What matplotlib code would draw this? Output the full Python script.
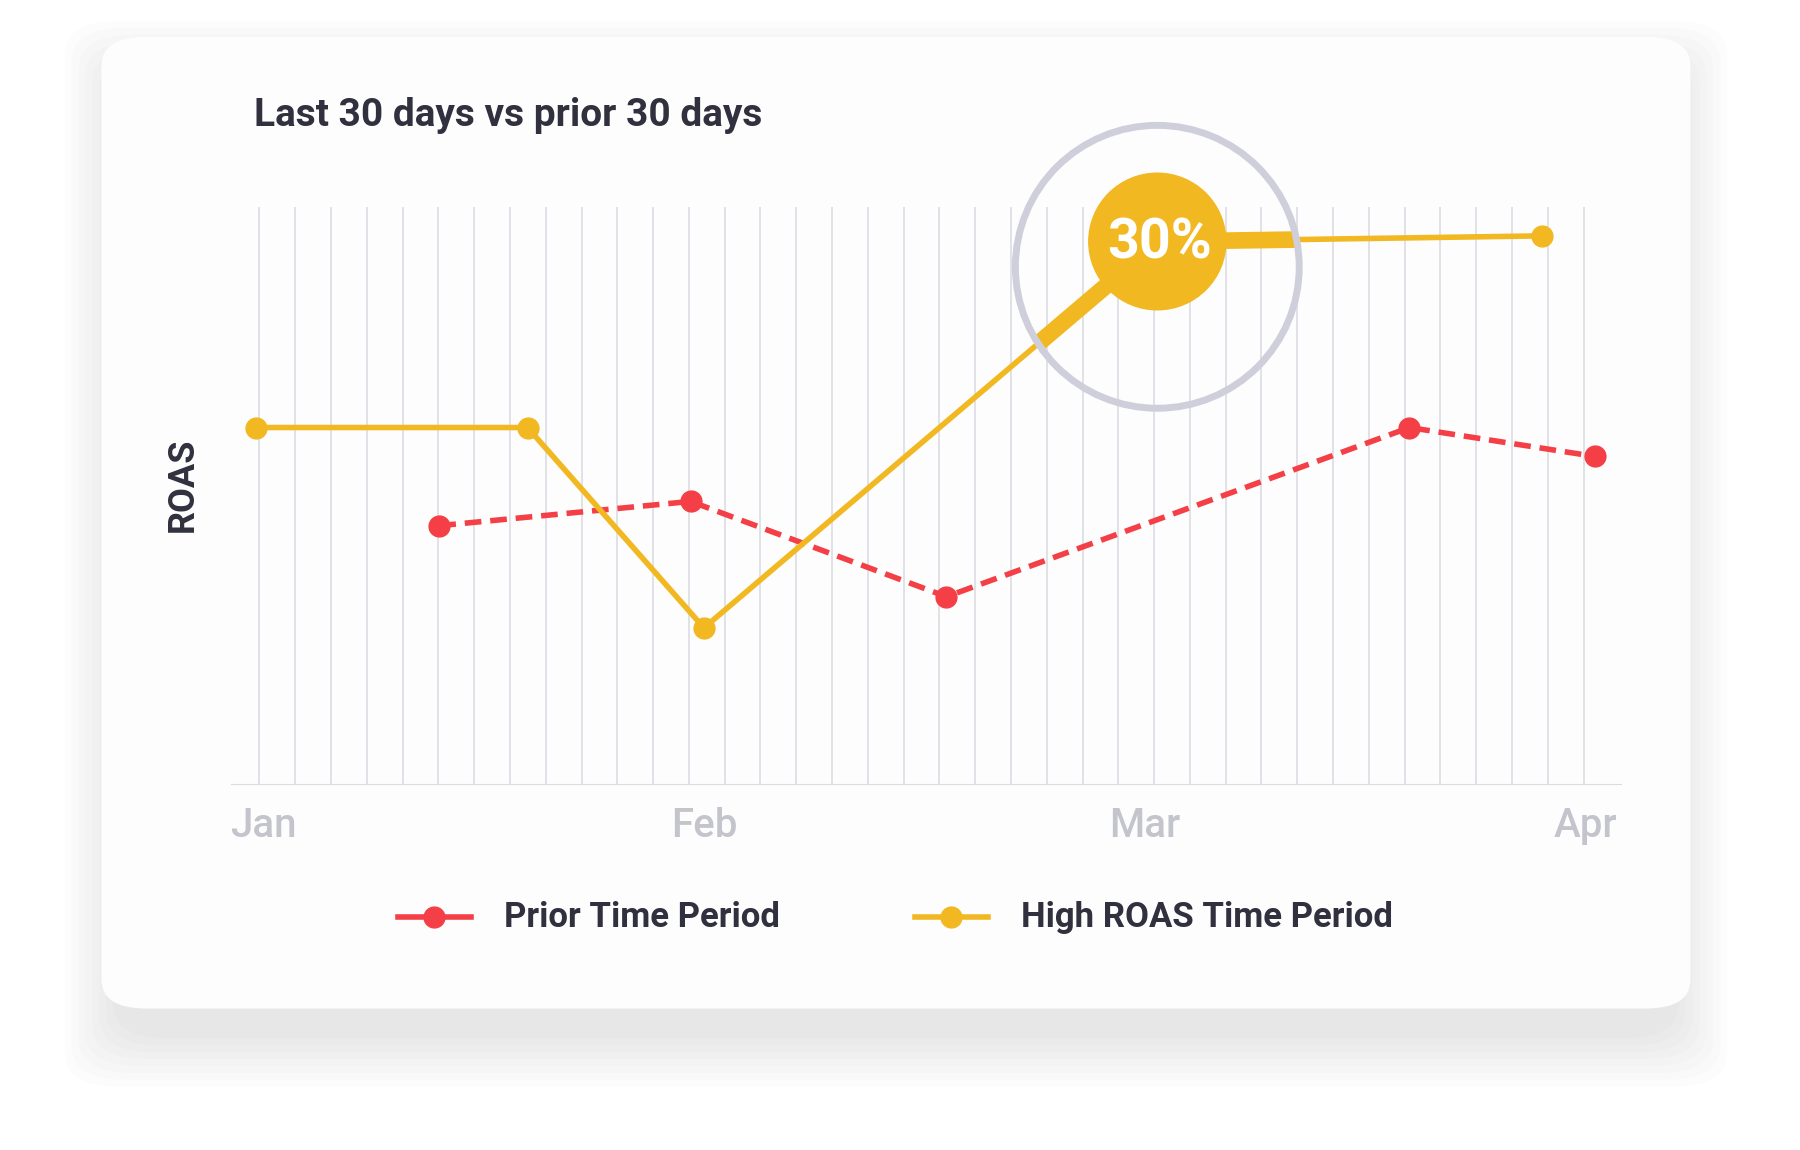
import matplotlib
matplotlib.use("Agg")
import matplotlib.pyplot as plt
import numpy as np
from matplotlib.patches import FancyBboxPatch, Ellipse
from matplotlib.lines import Line2D

plt.rcParams["font.family"] = ["Roboto", "DejaVu Sans"]

# month positions: Jan=0, Feb=1, Mar=2, Apr=3
month_ticks = [0, 1, 2, 3]
month_labels = ["Jan", "Feb", "Mar", "Apr"]
high_x = [-0.016, 0.60, 1.0, 2.03, 2.90]
high_y = [6.18, 6.18, 2.71, 9.40, 9.50]
prior_x = [0.40, 0.97, 1.55, 2.60, 3.02]
prior_y = [4.48, 4.90, 3.25, 6.18, 5.68]

YELLOW = "#f2b822"
RED = "#f43f46"
DARK = "#30303e"
W, H = 1560, 1000  # reference px frame


def fx(x): return x / W
def fy(y): return 1 - y / H


fig = plt.figure(figsize=(18, 11.5), dpi=100)
fig.patch.set_facecolor("white")

# card shadow + card
for i in range(8):
    g = 4 + i * 6
    fig.patches.append(FancyBboxPatch((fx(88 - g + 14), fy(877 + g + 22)), fx(1377 + 2 * g - 28), (845 + 2 * g - 10) / H,
                                      boxstyle="round,pad=0,rounding_size=0.03", transform=fig.transFigure,
                                      fc="black", ec="none", alpha=0.01, zorder=0))
fig.patches.append(FancyBboxPatch((fx(88), fy(877)), fx(1377), 845 / H,
                                  boxstyle="round,pad=0,rounding_size=0.025", transform=fig.transFigure,
                                  fc="#fdfdfd", ec="none", zorder=1))

ax = fig.add_axes([fx(200), fy(682), fx(1205), 502 / H])
ax.set_facecolor("none")
ax.set_zorder(2)
ax.set_xlim(-0.073, 3.08)
ax.set_ylim(0, 10)

for gx in np.arange(225, 1380, 31.0):
    ax.axvline((gx - 228) / 382, color="#dcdce4", lw=1.2, zorder=1)

ax.plot(prior_x, prior_y, color=RED, lw=4, ls=(0, (3, 1.6)), marker="o", ms=15, zorder=3)
ax.plot(high_x, high_y, color=YELLOW, lw=4, marker="o", ms=15, zorder=4)

# magnifier
mag = Ellipse((fx(1003), fy(232)), 2 * 123 / W, 2 * 123 / H, transform=fig.transFigure,
              fc="none", ec="#cfcfdc", lw=5, zorder=6)
fig.patches.append(mag)
clip = Ellipse((fx(1003), fy(232)), 2 * 123 / W, 2 * 123 / H, transform=fig.transFigure, fc="none", ec="none")
fig.patches.append(clip)
thick, = ax.plot(high_x, high_y, color=YELLOW, lw=12, zorder=5, solid_capstyle="butt")
thick.set_clip_path(clip)
badge = Ellipse((fx(1003), fy(210)), 2 * 60 / W, 2 * 60 / H, transform=fig.transFigure,
                fc=YELLOW, ec="none", zorder=7)
fig.patches.append(badge)
fig.text(fx(1005), fy(212), "30%", color="white", fontsize=40, fontweight="bold",
         ha="center", va="center", zorder=8)

ax.set_xticks(month_ticks)
ax.set_xticklabels(month_labels, fontweight="medium")
ax.tick_params(axis="x", length=0, pad=16, labelsize=29, labelcolor="#c4c4cc")
ax.set_yticks([])
for s in ["top", "right", "left"]:
    ax.spines[s].set_visible(False)
ax.spines["bottom"].set_color("#dcdce4")

fig.text(fx(220), fy(100), "Last 30 days vs prior 30 days", fontsize=28, fontweight="bold",
         color=DARK, va="center", ha="left")
fig.text(fx(158), fy(422), "ROAS", fontsize=26, fontweight="bold", color=DARK,
         rotation=90, va="center", ha="center")

# legend
for x0, col, label in [(345, RED, "Prior Time Period"), (793, YELLOW, "High ROAS Time Period")]:
    fig.lines.append(Line2D([fx(x0), fx(x0 + 63)], [fy(797)] * 2, transform=fig.transFigure,
                            color=col, lw=4, zorder=3))
    fig.lines.append(Line2D([fx(x0 + 31)], [fy(797)], transform=fig.transFigure, color=col,
                            marker="o", ms=15, zorder=3))
    fig.text(fx(x0 + 92), fy(798), label, fontsize=25, fontweight="bold", color=DARK,
             va="center", ha="left", zorder=3)

fig.savefig("out.png", dpi=100)
